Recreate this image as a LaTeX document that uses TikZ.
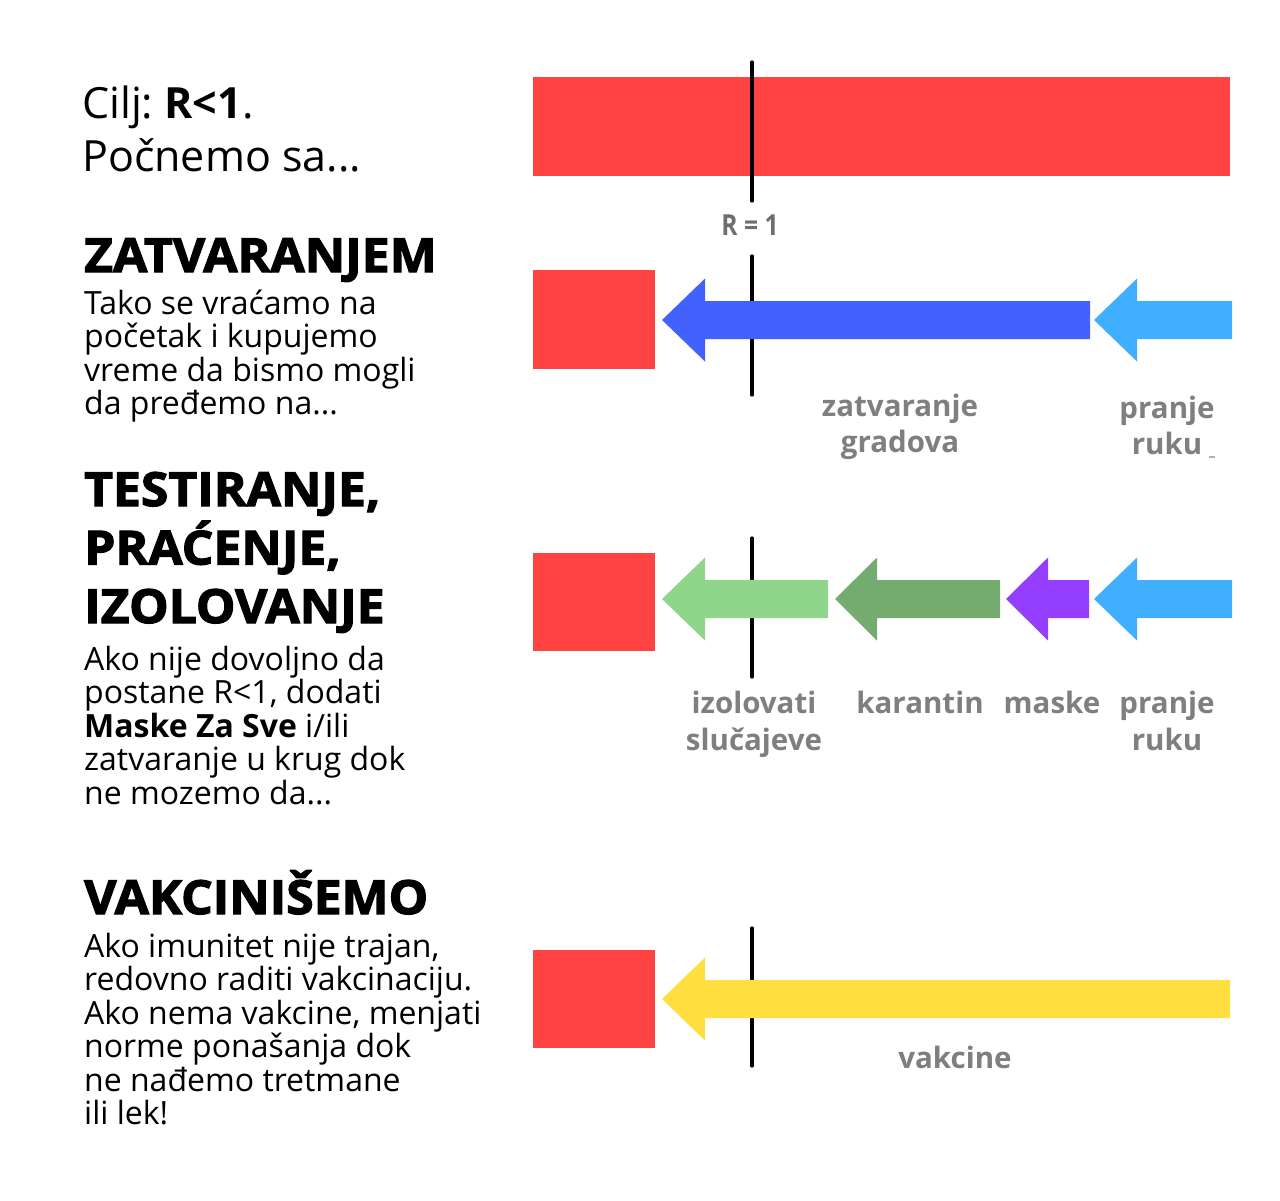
\documentclass[tikz,border=0pt]{standalone}
\usepackage{fontspec}
\setmainfont{Open Sans}
\newfontfamily\headfont[FakeBold=2.5,FakeStretch=1.06]{Open Sans}
\newfontfamily\condfont[FakeStretch=0.85]{Open Sans}
\definecolor{blockred}{HTML}{FF4343}
\definecolor{armblue}{HTML}{4361FF}
\definecolor{armsky}{HTML}{41AFFF}
\definecolor{armlgreen}{HTML}{90D68A}
\definecolor{armdgreen}{HTML}{74AB6E}
\definecolor{armpurple}{HTML}{943FFF}
\definecolor{armyellow}{HTML}{FFDE3F}
\definecolor{labelgray}{HTML}{7F7F7F}
\definecolor{rgray}{HTML}{6E6E6E}
\frenchspacing
\begin{document}
\begin{tikzpicture}[x=1pt,y=-1pt,
  body/.style={anchor=base west, inner sep=0, font=\fontsize{32}{36}\selectfont},
  headtxt/.style={anchor=base west, inner sep=0, font=\headfont\bfseries\fontsize{47}{52}\selectfont},
  bigtxt/.style={anchor=base west, inner sep=0, font=\fontsize{43}{50}\selectfont},
  lbl/.style={anchor=base, inner sep=0, font=\bfseries\fontsize{29.5}{36}\selectfont, text=labelgray},
  rline/.style={line width=3.2pt, line cap=round, draw=black},
  block/.style={fill=blockred}]
\fill[white] (0,0) rectangle (1280,1200);
\useasboundingbox (0,0) rectangle (1280,1200);

% ---------- left text ----------
\node[bigtxt] (t1) at (82,118) {Cilj: \textbf{R<1}.};
\node[bigtxt] (t2) at (82,171) {Počnemo sa...};

\node[headtxt] (h1) at (84,272) {ZATVARANJEM};
\node[body] (b11) at (84,314) {Tako se vraćamo na};
\node[body] (b12) at (84,347.5) {početak i kupujemo};
\node[body] (b13) at (84,381) {vreme da bismo mogli};
\node[body] (b14) at (84,414.5) {da pređemo na...};

\node[headtxt] (h21) at (84,506) {TESTIRANJE,};
\node[headtxt] (h22) at (84,564.5) {PRAĆENJE,};
\node[headtxt] (h23) at (84,623) {IZOLOVANJE};
\node[body] (b21) at (84,670) {Ako nije dovoljno da};
\node[body] (b22) at (84,703.5) {postane R<1, dodati};
\node[body] (b23) at (84,737) {\textbf{Maske Za Sve} i/ili};
\node[body] (b24) at (84,770.5) {zatvaranje u krug dok};
\node[body] (b25) at (84,804) {ne mozemo da...};

\node[headtxt] (h3) at (84,914) {VAKCINIŠEMO};
\node[body] (b31) at (84,957) {Ako imunitet nije trajan,};
\node[body] (b32) at (84,990.5) {redovno raditi vakcinaciju.};
\node[body] (b33) at (84,1024) {Ako nema vakcine, menjati};
\node[body] (b34) at (84,1057.5) {norme ponašanja dok};
\node[body] (b35) at (84,1091) {ne nađemo tretmane};
\node[body] (b36) at (84,1124.5) {ili lek!};

% ---------- row 1 ----------
\fill[block] (533,77) rectangle (1230,176);
\draw[rline] (752,62) -- (752,201);
\node[anchor=base, inner sep=0, font=\condfont\bfseries\fontsize{29}{32}\selectfont, text=rgray] (r1) at (750,235) {R = 1};

% ---------- row 2 ----------
\fill[block] (533,270) rectangle (655,369);
\draw[rline] (752,256) -- (752,395);
\fill[armblue] (662,320) -- (705,278.5) -- (705,301) -- (1090,301) -- (1090,339) -- (705,339) -- (705,361.5) -- cycle;
\fill[armsky] (1094,320) -- (1137,278.5) -- (1137,301) -- (1232,301) -- (1232,339) -- (1137,339) -- (1137,361.5) -- cycle;
\node[lbl] (l21) at (900,416) {zatvaranje};
\node[lbl] (l22) at (900,452) {gradova};
\node[lbl] (l23) at (1167,418) {pranje};
\node[lbl] (l24) at (1167,454) {ruku};
\fill[labelgray!60] (1209,456) rectangle (1215,458);

% ---------- row 3 ----------
\fill[block] (533,553) rectangle (655,651);
\draw[rline] (752,538) -- (752,677);
\fill[armlgreen] (662,599) -- (705,557.5) -- (705,580) -- (828,580) -- (828,618) -- (705,618) -- (705,640.5) -- cycle;
\fill[armdgreen] (835,599) -- (877,557.5) -- (877,580) -- (1000,580) -- (1000,618) -- (877,618) -- (877,640.5) -- cycle;
\fill[armpurple] (1006,599) -- (1048,557.5) -- (1048,580) -- (1089,580) -- (1089,618) -- (1048,618) -- (1048,640.5) -- cycle;
\fill[armsky] (1094,599) -- (1137,557.5) -- (1137,580) -- (1232,580) -- (1232,618) -- (1137,618) -- (1137,640.5) -- cycle;
\node[lbl] (l31) at (754,713) {izolovati};
\node[lbl] (l32) at (754,750) {slučajeve};
\node[lbl] (l33) at (920,713) {karantin};
\node[lbl] (l34) at (1052,713) {maske};
\node[lbl] (l35) at (1167,713) {pranje};
\node[lbl] (l36) at (1167,750) {ruku};

% ---------- row 4 ----------
\fill[block] (533,950) rectangle (655,1048);
\draw[rline] (752,928) -- (752,1066);
\fill[armyellow] (662,999) -- (705,957.5) -- (705,980) -- (1230,980) -- (1230,1018) -- (705,1018) -- (705,1040.5) -- cycle;
\node[lbl] (l41) at (955,1068) {vakcine};
\end{tikzpicture}
\end{document}
